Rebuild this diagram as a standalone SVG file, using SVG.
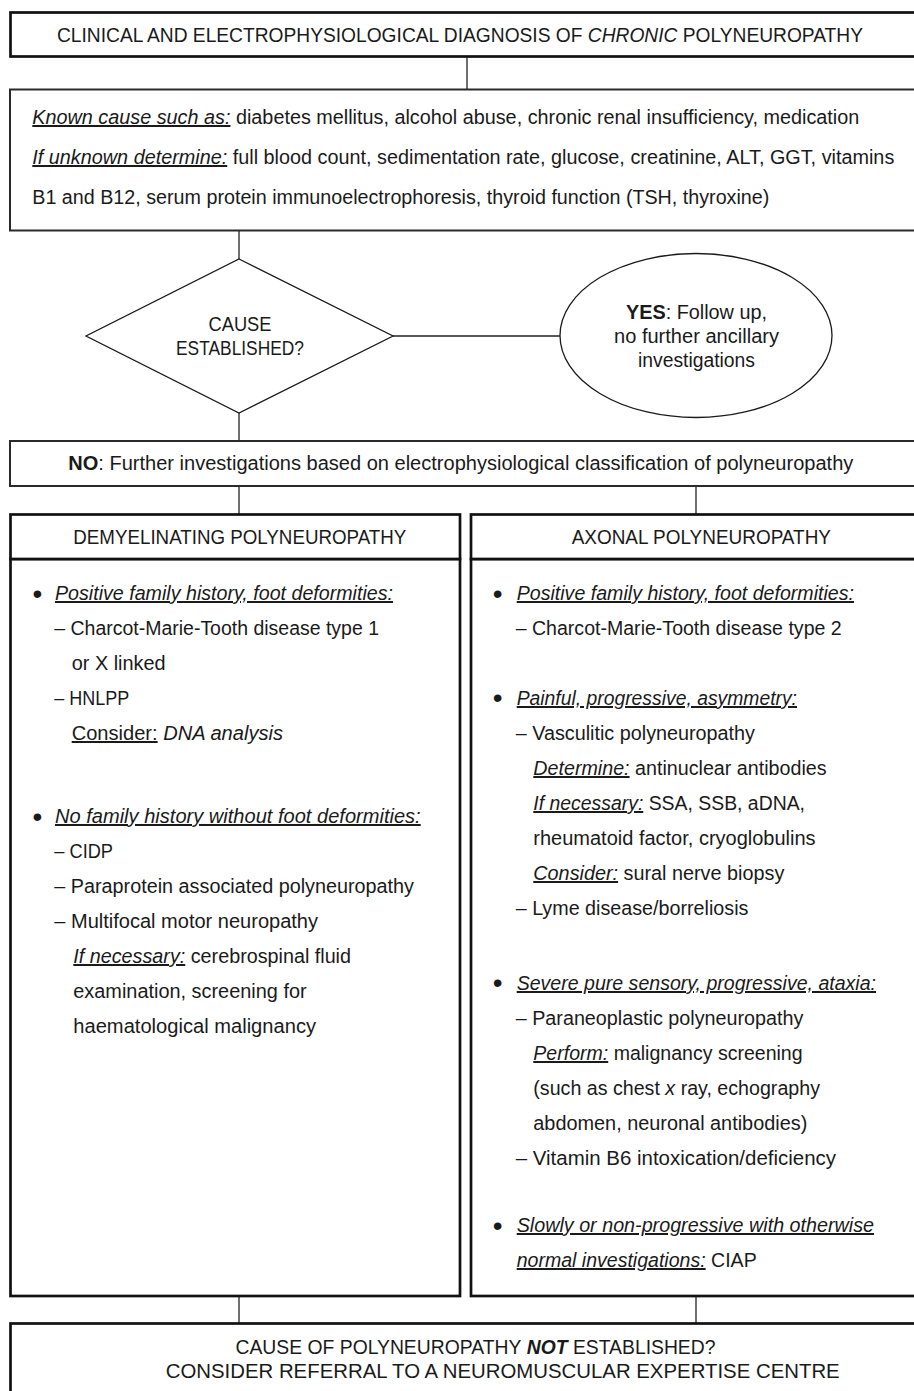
<svg xmlns="http://www.w3.org/2000/svg" width="914" height="1391" viewBox="0 0 914 1391">
<defs>
<style>
.t{font-family:"Liberation Sans",Arial,sans-serif;font-size:20px;fill:#1a1a1a}
.i{font-style:italic}
.u{text-decoration:underline}
.b{font-weight:bold}
.m{text-anchor:middle}
.bul{font-family:"Liberation Sans",Arial,sans-serif;font-size:28px;fill:#1a1a1a;text-anchor:middle}
.thick{fill:#fff;stroke:#111;stroke-width:2.7}
.med{fill:#fff;stroke:#2a2a2a;stroke-width:2}
.shape{fill:#fff;stroke:#1a1a1a;stroke-width:1.3}
#connectors line{stroke:#222;stroke-width:1.3}
</style>
</defs>
<rect width="914" height="1391" fill="#fff"/>
<g id="connectors">
<line x1="467" y1="57" x2="467" y2="89"/>
<line x1="239" y1="230" x2="239" y2="259"/>
<line x1="393" y1="336" x2="560" y2="336"/>
<line x1="239" y1="413" x2="239" y2="441"/>
<line x1="239" y1="486" x2="239" y2="514"/>
<line x1="696" y1="486" x2="696" y2="514"/>
<line x1="239" y1="1296" x2="239" y2="1323"/>
<line x1="696" y1="1296" x2="696" y2="1323"/>
</g>
<g id="title">
<rect class="thick" x="10.5" y="12.5" width="915" height="44"/>
<text class="t" x="57" y="42" textLength="806" lengthAdjust="spacingAndGlyphs">CLINICAL AND ELECTROPHYSIOLOGICAL DIAGNOSIS OF<tspan class="i"> CHRONIC </tspan>POLYNEUROPATHY</text>
</g>
<g id="known-cause">
<rect class="med" x="10" y="89.5" width="915" height="141"/>
<text class="t" x="32.3" y="124" textLength="827" lengthAdjust="spacingAndGlyphs"><tspan class="u i">Known cause such as:</tspan> diabetes mellitus, alcohol abuse, chronic renal insufficiency, medication</text>
<text class="t" x="32.3" y="164" textLength="862" lengthAdjust="spacingAndGlyphs"><tspan class="u i">If unknown determine:</tspan> full blood count, sedimentation rate, glucose, creatinine, ALT, GGT, vitamins</text>
<text class="t" x="32.3" y="204" textLength="737" lengthAdjust="spacingAndGlyphs">B1 and B12, serum protein immunoelectrophoresis, thyroid function (TSH, thyroxine)</text>
</g>
<g id="decision">
<polygon class="shape" points="239,259 393,336 239,413 86,336"/>
<text class="t m" x="240" y="331" textLength="63" lengthAdjust="spacingAndGlyphs">CAUSE</text>
<text class="t m" x="240" y="355" textLength="128" lengthAdjust="spacingAndGlyphs">ESTABLISHED?</text>
</g>
<g id="yes">
<ellipse class="shape" cx="696" cy="335.5" rx="136" ry="82"/>
<text class="t m" x="696.5" y="319" textLength="141" lengthAdjust="spacingAndGlyphs"><tspan class="b">YES</tspan>: Follow up,</text>
<text class="t m" x="696.5" y="343" textLength="165" lengthAdjust="spacingAndGlyphs">no further ancillary</text>
<text class="t m" x="696.5" y="367" textLength="117" lengthAdjust="spacingAndGlyphs">investigations</text>
</g>
<g id="no">
<rect class="med" x="10" y="441" width="915" height="45"/>
<text class="t" x="68.3" y="470" textLength="785" lengthAdjust="spacingAndGlyphs"><tspan class="b">NO</tspan>: Further investigations based on electrophysiological classification of polyneuropathy</text>
</g>
<g id="demyelinating">
<rect class="thick" x="10.5" y="559" width="449.5" height="737"/>
<rect class="thick" x="10.5" y="514.5" width="449.5" height="44.5"/>
<text class="t" x="73.3" y="544" textLength="333" lengthAdjust="spacingAndGlyphs">DEMYELINATING POLYNEUROPATHY</text>
<text class="bul" x="37.3" y="602.7">•</text>
<text class="t u i" x="55" y="600" textLength="338" lengthAdjust="spacingAndGlyphs">Positive family history, foot deformities:</text>
<text class="t" x="54.3" y="635" textLength="324.7" lengthAdjust="spacingAndGlyphs">– Charcot-Marie-Tooth disease type 1</text>
<text class="t" x="71.7" y="670" textLength="94" lengthAdjust="spacingAndGlyphs">or X linked</text>
<text class="t" x="54.3" y="705" textLength="75" lengthAdjust="spacingAndGlyphs">– HNLPP</text>
<text class="t" x="71.7" y="740" textLength="211.3" lengthAdjust="spacingAndGlyphs"><tspan class="u">Consider:</tspan> <tspan class="i">DNA analysis</tspan></text>
<text class="bul" x="37.3" y="825.7">•</text>
<text class="t u i" x="55" y="823" textLength="365.7" lengthAdjust="spacingAndGlyphs">No family history without foot deformities:</text>
<text class="t" x="54.3" y="858" textLength="58.7" lengthAdjust="spacingAndGlyphs">– CIDP</text>
<text class="t" x="54.3" y="893" textLength="359.7" lengthAdjust="spacingAndGlyphs">– Paraprotein associated polyneuropathy</text>
<text class="t" x="54.3" y="928" textLength="263.7" lengthAdjust="spacingAndGlyphs">– Multifocal motor neuropathy</text>
<text class="t" x="73.3" y="963" textLength="277.7" lengthAdjust="spacingAndGlyphs"><tspan class="u i">If necessary:</tspan> cerebrospinal fluid</text>
<text class="t" x="73.3" y="998" textLength="233.3" lengthAdjust="spacingAndGlyphs">examination, screening for</text>
<text class="t" x="73.3" y="1033" textLength="242.7" lengthAdjust="spacingAndGlyphs">haematological malignancy</text>
</g>
<g id="axonal">
<rect class="thick" x="471" y="559" width="455" height="737"/>
<rect class="thick" x="471" y="514.5" width="455" height="44.5"/>
<text class="t" x="571.7" y="544" textLength="259.3" lengthAdjust="spacingAndGlyphs">AXONAL POLYNEUROPATHY</text>
<text class="bul" x="497.7" y="602.7">•</text>
<text class="t u i" x="516.7" y="600" textLength="337.3" lengthAdjust="spacingAndGlyphs">Positive family history, foot deformities:</text>
<text class="t" x="515.7" y="635" textLength="326" lengthAdjust="spacingAndGlyphs">– Charcot-Marie-Tooth disease type 2</text>
<text class="bul" x="497.7" y="707.3">•</text>
<text class="t u i" x="516.7" y="705" textLength="280.3" lengthAdjust="spacingAndGlyphs">Painful, progressive, asymmetry:</text>
<text class="t" x="515.7" y="740" textLength="239.3" lengthAdjust="spacingAndGlyphs">– Vasculitic polyneuropathy</text>
<text class="t" x="533.3" y="775" textLength="293.3" lengthAdjust="spacingAndGlyphs"><tspan class="u i">Determine:</tspan> antinuclear antibodies</text>
<text class="t" x="533.3" y="810" textLength="271.7" lengthAdjust="spacingAndGlyphs"><tspan class="u i">If necessary:</tspan> SSA, SSB, aDNA,</text>
<text class="t" x="533.3" y="845" textLength="282.3" lengthAdjust="spacingAndGlyphs">rheumatoid factor, cryoglobulins</text>
<text class="t" x="533.3" y="880" textLength="251" lengthAdjust="spacingAndGlyphs"><tspan class="u i">Consider:</tspan> sural nerve biopsy</text>
<text class="t" x="515.7" y="915" textLength="232.7" lengthAdjust="spacingAndGlyphs">– Lyme disease/borreliosis</text>
<text class="bul" x="497.7" y="992.3">•</text>
<text class="t u i" x="516.7" y="990" textLength="359.3" lengthAdjust="spacingAndGlyphs">Severe pure sensory, progressive, ataxia:</text>
<text class="t" x="515.7" y="1025" textLength="287.7" lengthAdjust="spacingAndGlyphs">– Paraneoplastic polyneuropathy</text>
<text class="t" x="533.3" y="1060" textLength="269.3" lengthAdjust="spacingAndGlyphs"><tspan class="u i">Perform:</tspan> malignancy screening</text>
<text class="t" x="533.3" y="1095" textLength="286.7" lengthAdjust="spacingAndGlyphs">(such as chest <tspan class="i">x</tspan> ray, echography</text>
<text class="t" x="533.3" y="1130" textLength="274" lengthAdjust="spacingAndGlyphs">abdomen, neuronal antibodies)</text>
<text class="t" x="515.7" y="1165" textLength="320.3" lengthAdjust="spacingAndGlyphs">– Vitamin B6 intoxication/deficiency</text>
<text class="bul" x="497.7" y="1235">•</text>
<text class="t u i" x="516.7" y="1232" textLength="357.3" lengthAdjust="spacingAndGlyphs">Slowly or non-progressive with otherwise</text>
<text class="t" x="516.7" y="1267" textLength="240" lengthAdjust="spacingAndGlyphs"><tspan class="u i">normal investigations:</tspan> CIAP</text>
</g>
<g id="referral">
<rect class="thick" x="10.5" y="1323.5" width="915" height="100"/>
<text class="t" x="235.5" y="1354" textLength="480" lengthAdjust="spacingAndGlyphs">CAUSE OF POLYNEUROPATHY<tspan class="b i"> NOT </tspan>ESTABLISHED?</text>
<text class="t" x="165.7" y="1378" textLength="674" lengthAdjust="spacingAndGlyphs">CONSIDER REFERRAL TO A NEUROMUSCULAR EXPERTISE CENTRE</text>
</g>
</svg>
